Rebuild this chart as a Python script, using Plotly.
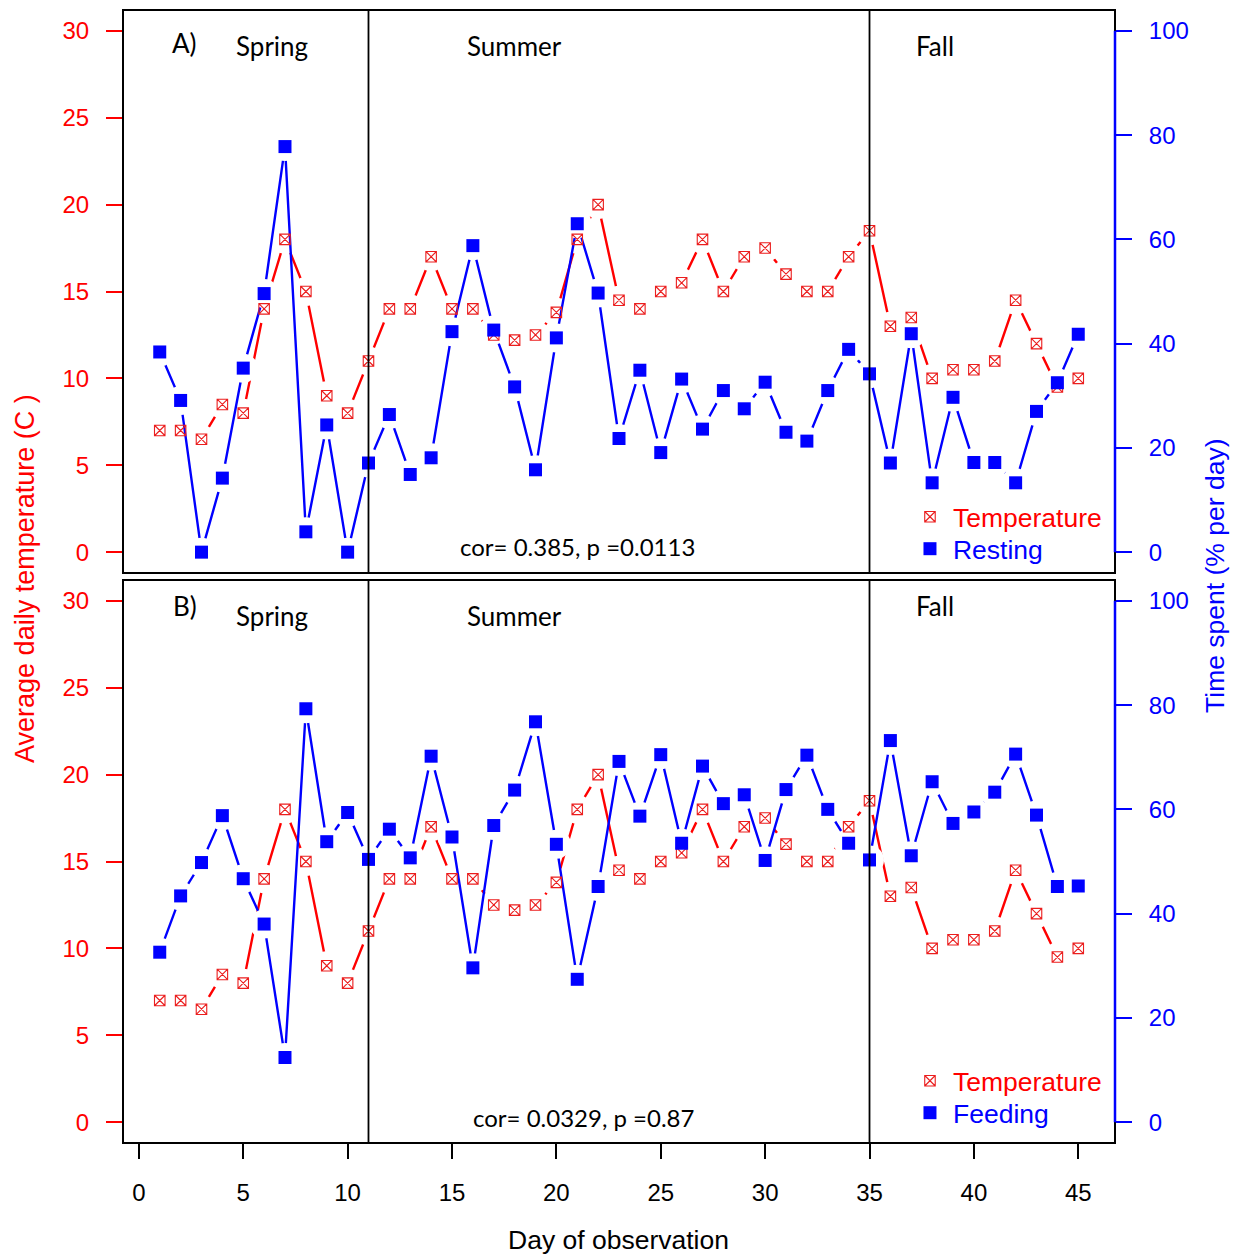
import plotly.graph_objects as go

# ---------------- data ----------------
days = list(range(1, 46))
temperature = [7, 7, 6.5, 8.5, 8, 14, 18, 15, 9, 8,
               11, 14, 14, 17, 14, 14, 12.5, 12.2, 12.5, 13.8,
               18, 20, 14.5, 14, 15, 15.5, 18, 15, 17, 17.5,
               16, 15, 15, 17, 18.5, 13, 13.5, 10, 10.5, 10.5,
               11, 14.5, 12, 9.5, 10]
resting = [38.4, 29.1, 0, 14.2, 35.3, 49.6, 77.8, 3.9, 24.4, 0,
           17.1, 26.4, 14.9, 18.1, 42.3, 58.8, 42.6, 31.7, 15.8, 41.1,
           63.0, 49.7, 21.8, 34.9, 19.1, 33.2, 23.6, 31.0, 27.5, 32.6,
           23.0, 21.3, 31.0, 38.9, 34.2, 17.1, 41.9, 13.3, 29.7, 17.2,
           17.2, 13.3, 27.0, 32.5, 41.8]
feeding = [32.6, 43.4, 49.8, 58.8, 46.7, 38.0, 12.4, 79.3, 53.8, 59.4,
           50.4, 56.2, 50.7, 70.2, 54.7, 29.6, 56.9, 63.7, 76.8, 53.3,
           27.4, 45.2, 69.2, 58.7, 70.5, 53.5, 68.3, 61.1, 62.8, 50.2,
           63.8, 70.4, 60.0, 53.5, 50.3, 73.2, 51.1, 65.3, 57.3, 59.5,
           63.3, 70.6, 58.9, 45.2, 45.3]
season_breaks = [11, 35]
temp_ticks = [0, 5, 10, 15, 20, 25, 30]
pct_ticks = [0, 20, 40, 60, 80, 100]
day_ticks = [0, 5, 10, 15, 20, 25, 30, 35, 40, 45]
panel_labels = ["A)", "B)"]
stats = ["cor= 0.385, p =0.0113", "cor= 0.0329, p =0.87"]

RED = "#ff0000"
BLUE = "#0000ff"
ARIAL = "Liberation Sans, Arial, sans-serif"
MYRIAD = "Lato, Open Sans, sans-serif"

fig = go.Figure()

panels = [
    dict(x="x", y=("y", "y2", "y3", "y4"), beh=resting, name="Resting", legends=("legend", "legend2")),
    dict(x="x2", y=("y5", "y6", "y7", "y8"), beh=feeding, name="Feeding", legends=("legend3", "legend4")),
]

for p in panels:
    yt, yb, ytm, ybm = p["y"]
    # temperature line + gap mask (bottom layer)
    fig.add_trace(go.Scatter(x=days, y=temperature, xaxis=p["x"], yaxis=yt, mode="lines",
                             line=dict(color=RED, width=2.4), showlegend=False, hoverinfo="skip"))
    fig.add_trace(go.Scatter(x=days, y=temperature, xaxis=p["x"], yaxis=yt, mode="markers",
                             marker=dict(symbol="circle", size=29, color="white"),
                             showlegend=False, hoverinfo="skip"))
    # behaviour line + gap mask
    fig.add_trace(go.Scatter(x=days, y=p["beh"], xaxis=p["x"], yaxis=yb, mode="lines",
                             line=dict(color=BLUE, width=2.4), showlegend=False, hoverinfo="skip"))
    fig.add_trace(go.Scatter(x=days, y=p["beh"], xaxis=p["x"], yaxis=yb, mode="markers",
                             marker=dict(symbol="circle", size=29, color="white"),
                             showlegend=False, hoverinfo="skip"))
    # markers on top layers
    fig.add_trace(go.Scatter(x=days, y=temperature, xaxis=p["x"], yaxis=ytm, mode="markers",
                             marker=dict(symbol="square-x-open", size=10.5, color="rgb(235,30,30)",
                                         line=dict(width=1.1)),
                             name='<span style="color:#ff0000">Temperature</span>',
                             legend=p["legends"][0]))
    fig.add_trace(go.Scatter(x=days, y=p["beh"], xaxis=p["x"], yaxis=ybm, mode="markers",
                             marker=dict(symbol="square", size=13, color=BLUE),
                             name='<span style="color:#0000ff">%s</span>' % p["name"],
                             legend=p["legends"][1]))

xr = [-0.76, 46.76]
tr = [-1.2, 31.2]
pr = [-4, 104]
top_dom = [0.50309, 1.0]
bot_dom = [0.0, 0.49691]

def temp_axis(domain, anchor):
    return dict(domain=domain, anchor=anchor, range=tr, autorange=False, showgrid=False,
                zeroline=False, showline=False, ticks="outside", ticklen=16, tickwidth=2,
                tickcolor=RED, tickvals=temp_ticks, ticklabelstandoff=12,
                tickfont=dict(family=ARIAL, size=24, color=RED))

def pct_axis(over, anchor):
    return dict(overlaying=over, anchor=anchor, side="right", range=pr, autorange=False,
                showgrid=False, zeroline=False, showline=False, ticks="outside", ticklen=16,
                tickwidth=2, tickcolor=BLUE, tickvals=pct_ticks, ticklabelstandoff=12,
                tickfont=dict(family=ARIAL, size=24, color=BLUE))

def hidden_axis(over, anchor, rng):
    return dict(overlaying=over, anchor=anchor, range=rng, autorange=False, visible=False,
                showgrid=False, zeroline=False)

def leg(y):
    return dict(x=0.7903, xanchor="left", y=y, yanchor="middle", bgcolor="rgba(0,0,0,0)",
                font=dict(family=ARIAL, size=26.5), itemsizing="trace", itemwidth=36)

fig.update_layout(
    width=1244, height=1256,
    margin=dict(l=115, r=137, t=2, b=121),
    paper_bgcolor="white", plot_bgcolor="white",
    xaxis=dict(domain=[0, 1], anchor="y", range=xr, autorange=False, showgrid=False,
               zeroline=False, showticklabels=False, ticks=""),
    xaxis2=dict(domain=[0, 1], anchor="y5", range=xr, autorange=False, showgrid=False,
                zeroline=False, showline=False, ticks="outside", ticklen=15, tickwidth=2,
                tickcolor="black", tickvals=day_ticks, ticklabelstandoff=13,
                tickfont=dict(family=ARIAL, size=24, color="black")),
    yaxis=temp_axis(top_dom, "x"),
    yaxis2=pct_axis("y", "x"),
    yaxis3=hidden_axis("y", "x", tr),
    yaxis4=hidden_axis("y", "x", pr),
    yaxis5=temp_axis(bot_dom, "x2"),
    yaxis6=pct_axis("y5", "x2"),
    yaxis7=hidden_axis("y5", "x2", tr),
    yaxis8=hidden_axis("y5", "x2", pr),
    legend=leg(0.5525),
    legend2=leg(0.5243),
    legend3=leg(0.0547),
    legend4=leg(0.0265),
    showlegend=True,
)

shapes = []
for xa, ya, yb in [("x", "y", "y2"), ("x2", "y5", "y6")]:
    shapes.append(dict(type="rect", xref=xa + " domain", yref=ya + " domain", x0=0, x1=1, y0=0, y1=1,
                       line=dict(color="black", width=2), layer="above"))
    for b in season_breaks:
        shapes.append(dict(type="line", xref=xa, yref=ya + " domain", x0=b, x1=b, y0=0, y1=1,
                           line=dict(color="black", width=1.8), layer="above"))
    shapes.append(dict(type="line", xref=xa + " domain", yref=yb, x0=1, x1=1,
                       y0=pct_ticks[0], y1=pct_ticks[-1], line=dict(color=BLUE, width=2.5),
                       layer="above"))
fig.update_layout(shapes=shapes)

ann = []
seasons = [("Spring", 6.36), ("Summer", 17.98), ("Fall", 38.16)]
for i, (xa, ya) in enumerate([("x", "y"), ("x2", "y5")]):
    ann.append(dict(text=panel_labels[i], x=2.2, y=29.3 if i == 0 else 29.7, xref=xa, yref=ya,
                    xanchor="center", yanchor="middle", showarrow=False,
                    font=dict(family=MYRIAD, size=26, color="black")))
    for name, sx in seasons:
        sy = 29.1
        if i == 1 and name == "Fall":
            sy = 29.7
        ann.append(dict(text=name, x=sx, y=sy, xref=xa, yref=ya, showarrow=False,
                        xanchor="center", yanchor="middle",
                        font=dict(family=MYRIAD, size=26, color="black")))
    ann.append(dict(text=stats[i], x=21.0 if i == 0 else 21.3, y=0.3 if i == 0 else 0.25,
                    xref=xa, yref=ya, showarrow=False, xanchor="center", yanchor="middle",
                    font=dict(family=MYRIAD, size=24, color="black")))

ann.append(dict(text="Average daily temperature (C )", x=-0.0988, y=0.4987, xref="paper",
                yref="paper", textangle=-90, showarrow=False, xanchor="center", yanchor="middle",
                font=dict(family=ARIAL, size=27, color=RED)))
ann.append(dict(text="Time spent (% per day)", x=1.1008, y=0.5005, xref="paper", yref="paper",
                textangle=-90, showarrow=False, xanchor="center", yanchor="middle",
                font=dict(family=ARIAL, size=26.5, color=BLUE)))
ann.append(dict(text="Day of observation", x=0.4995, y=-0.0856, xref="paper", yref="paper",
                showarrow=False, xanchor="center", yanchor="middle",
                font=dict(family=ARIAL, size=26.5, color="black")))
fig.update_layout(annotations=ann)

fig.write_html("out.html")
